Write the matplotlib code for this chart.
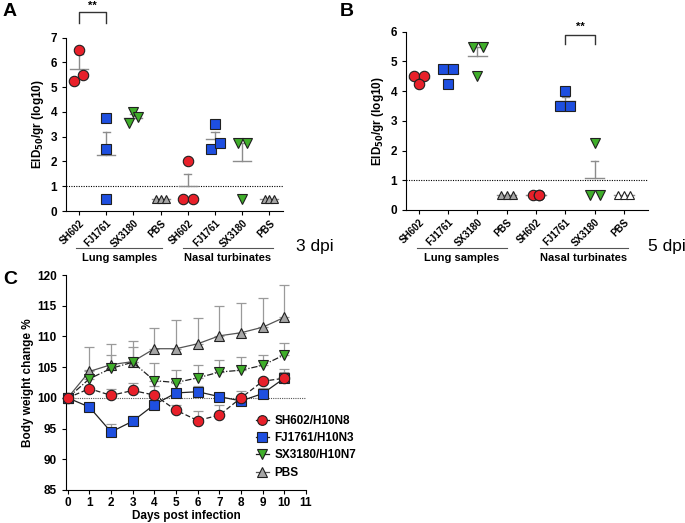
import matplotlib
matplotlib.use("Agg")
import matplotlib.pyplot as plt
import matplotlib.transforms as mtransforms
from matplotlib.lines import Line2D
import numpy as np

plt.rcParams['font.family'] = ['Liberation Sans', 'DejaVu Sans']
plt.rcParams['font.weight'] = 'bold'
plt.rcParams['axes.labelweight'] = 'bold'

# ---------------- data ----------------
categories = ["SH602", "FJ1761", "SX3180", "PBS", "SH602", "FJ1761", "SX3180", "PBS"]
groups = ["Lung samples", "Nasal turbinates"]

# Panel A (3 dpi) individual values
a_values = [[6.5, 5.25, 5.5], [3.75, 2.5, 0.5], [4.0, 3.55, 3.8], [0.5, 0.5, 0.5],
            [2.0, 0.5, 0.5], [3.5, 2.5, 2.75], [2.75, 2.75, 0.5], [0.5, 0.5, 0.5]]
a_mean = [5.75, 2.26, 3.74, 0.5, 1.0, 2.92, 2.0, 0.5]
a_top = [6.33, 3.19, 3.9, None, 1.49, 3.2, 2.75, None]

# Panel B (5 dpi) individual values
b_values = [[4.5, 4.5, 4.25], [4.75, 4.75, 4.25], [5.5, 5.5, 4.5], [0.5, 0.5, 0.5],
            [0.5, 0.5, 0.5], [4.0, 3.5, 3.5], [2.25, 0.5, 0.5], [0.5, 0.5, 0.5]]
b_mean = [4.43, 4.6, 5.18, 0.5, 0.5, 3.67, 1.07, 0.5]
b_top = [None, None, 5.49, None, None, 3.81, 1.66, None]

# Panel C body weight
days = [0, 1, 2, 3, 4, 5, 6, 7, 8, 9, 10]
sh602_w = [100, 101.5, 100.4, 101.2, 100.45, 98.0, 96.3, 97.2, 100.0, 102.7, 103.2]
sh602_e = [0, 0, 1.1, 1.3, 1.45, 0.9, 1.5, 1.7, 1.1, 0.5, 1.5]
fj1761_w = [100, 98.5, 94.45, 96.2, 98.9, 100.8, 101.0, 100.2, 99.5, 100.7, 103.2]
fj1761_e = [0, 0, 1.35, 0.8, 0.5, 0.6, 1.0, 0.5, 0.3, 0.9, 1.0]
sx3180_w = [100, 103.1, 104.8, 105.8, 102.8, 102.5, 103.25, 104.2, 104.5, 105.3, 107.0]
sx3180_e = [0, 1.5, 2.1, 2.4, 2.9, 2.0, 2.15, 1.9, 2.1, 1.7, 2.0]
pbs_w = [100, 104.3, 105.4, 105.9, 108.0, 108.0, 108.8, 110.1, 110.6, 111.5, 113.1]
pbs_e = [0, 3.9, 3.4, 3.3, 3.35, 4.6, 4.2, 4.9, 4.8, 4.8, 5.2]

# ---------------- styles ----------------
RED = '#E8202A'
BLUE = '#1E4FE0'
GREEN = '#3FAE2A'
GRAY = '#A6A6A6'
markers = ['o', 's', 'v', '^']
colors = [RED, BLUE, GREEN, GRAY]

a_offsets = [[0, -0.18, 0.16], [0, 0, 0], [0, -0.18, 0.15], [-0.18, 0, 0.18],
             [0, -0.18, 0.18], [0, -0.16, 0.18], [-0.16, 0.18, 0], [-0.18, 0, 0.18]]
b_offsets = [[-0.16, 0.16, 0], [-0.17, 0.17, 0], [-0.15, 0.19, 0], [-0.2, 0, 0.2],
             [-0.1, 0.1, 0.1], [0, -0.17, 0.17], [0, -0.17, 0.17], [-0.2, 0, 0.2]]

W, H = 685, 523
fig = plt.figure(figsize=(W / 100, H / 100), dpi=100)


def rect(l, r, t, b):
    return [l / W, 1 - b / H, (r - l) / W, (b - t) / H]


def scatter_panel(ax, values, offsets, means, tops, ymax, pbs_white=False):
    for i, (vals, offs) in enumerate(zip(values, offsets)):
        k = i % 4
        fc = colors[k]
        ms = 7.5 if k < 3 else 5.5
        if k == 3 and pbs_white and i >= 4:
            fc = 'white'
        # mean line and SEM
        ax.plot([i - 0.33, i + 0.33], [means[i], means[i]], color='#8C8C8C', lw=1.0, zorder=2)
        if tops[i] is not None:
            ax.plot([i, i], [means[i], tops[i]], color='#8C8C8C', lw=1.0, zorder=2)
            ax.plot([i - 0.13, i + 0.13], [tops[i], tops[i]], color='#8C8C8C', lw=1.0, zorder=2)
        for v, o in zip(vals, offs):
            ax.plot(i + o, v, marker=markers[k], ms=ms, mfc=fc, mec='#202020', mew=0.8,
                    linestyle='none', zorder=3, clip_on=False)
    ax.axhline(1, color='black', ls=(0, (1, 1.2)), lw=0.8, zorder=1)
    ax.set_xticks(range(len(categories)))
    ax.set_xticklabels(categories, rotation=45, ha='right', rotation_mode='anchor',
                       fontsize=7, fontweight='bold')
    ax.set_ylim(0, ymax)
    ax.set_yticks(range(0, ymax + 1))
    ax.tick_params(axis='y', labelsize=8.5, length=3, width=0.8)
    ax.tick_params(axis='x', length=3, width=0.8, pad=2)
    for lab in ax.get_yticklabels():
        lab.set_fontweight('bold')
    for s in ['top', 'right']:
        ax.spines[s].set_visible(False)
    for s in ['left', 'bottom']:
        ax.spines[s].set_linewidth(0.8)
    ax.set_ylabel('EID$_{\\mathbf{50}}$/gr (log10)', fontsize=8.5, fontweight='bold', labelpad=3)


def group_lines(ax, spans, ypix_line, ypix_text):
    tr = mtransforms.blended_transform_factory(ax.transData, fig.transFigure)
    for (x0, x1), name in zip(spans, groups):
        ax.add_artist(Line2D([x0, x1], [1 - ypix_line / H] * 2, transform=tr, color='#555555',
                             lw=0.8, clip_on=False))
        ax.text((x0 + x1) / 2, 1 - ypix_text / H, name, transform=tr, ha='center', va='center',
                fontsize=8, fontweight='bold', clip_on=False)


def bracket(ax, x0, x1, y0, y1, ytext):
    ax.plot([x0, x0, x1, x1], [y0, y1, y1, y0], color='#333333', lw=1.0, clip_on=False)
    ax.text((x0 + x1) / 2, ytext, '**', ha='center', va='center', fontsize=8,
            fontweight='bold', clip_on=False)


# ---------------- Panel A ----------------
axA = fig.add_axes(rect(66, 283, 37.7, 211))
scatter_panel(axA, a_values, a_offsets, a_mean, a_top, 7)
axA.set_xlim(-0.48, 7.5)
group_lines(axA, [(-0.1, 3.05), (3.82, 7.13)], 248, 258)
bracket(axA, 0, 1, 7.6, 8.05, 8.3)
fig.text(296 / W, 1 - 247 / H, '3 dpi', fontsize=12.5, fontweight='normal', va='center', ha='left')
fig.text(3 / W, 1 - 11 / H, 'A', fontsize=14, fontweight='bold', va='center', ha='left')

# ---------------- Panel B ----------------
axB = fig.add_axes(rect(406, 648, 31.7, 210))
scatter_panel(axB, b_values, b_offsets, b_mean, b_top, 6, pbs_white=True)
axB.set_xlim(-0.44, 7.82)
group_lines(axB, [(-0.07, 3.0), (4.13, 7.13)], 248, 258)
bracket(axB, 5, 6, 5.58, 5.88, 6.17)
fig.text(648 / W, 1 - 247 / H, '5 dpi', fontsize=12.5, fontweight='normal', va='center', ha='left')
fig.text(340 / W, 1 - 11 / H, 'B', fontsize=14, fontweight='bold', va='center', ha='left')

# ---------------- Panel C ----------------
axC = fig.add_axes(rect(66, 306, 275, 490))
series = [("SH602/H10N8", sh602_w, sh602_e, RED, 'o', (0, (4, 2)), '#222222'),
          ("FJ1761/H10N3", fj1761_w, fj1761_e, BLUE, 's', '-', '#222222'),
          ("SX3180/H10N7", sx3180_w, sx3180_e, GREEN, 'v', (0, (5, 1.5, 1, 1.5)), '#222222'),
          ("PBS", pbs_w, pbs_e, GRAY, '^', '-', '#555555')]
handles = []
for name, w, e, c, m, ls, lc in reversed(series):
    w = np.array(w)
    e = np.array(e)
    axC.errorbar(days, w, yerr=[np.zeros_like(e), e], fmt='none', ecolor='#9A9A9A',
                 elinewidth=0.9, capsize=3.5, capthick=0.9, zorder=2)
for idx, (name, w, e, c, m, ls, lc) in enumerate(reversed(series)):
    axC.plot(days, w, color=lc, lw=0.9, ls=ls, zorder=3 + idx)
    axC.plot(days, w, marker=m, ms=7.5, mfc=c, mec='#202020', mew=0.8, ls='none',
             zorder=3 + idx, clip_on=False)
for name, w, e, c, m, ls, lc in series:
    handles.append(Line2D([0], [0], color=lc, lw=0.9, ls='-', marker=m, ms=7, mfc=c,
                          mec='#202020', mew=0.8, label=name))
axC.axhline(100, color='#555555', ls=(0, (1, 1)), lw=0.8, zorder=1)
axC.set_xlim(-0.08, 11)
axC.set_ylim(85, 120)
axC.set_xticks(range(0, 12))
axC.set_yticks(range(85, 121, 5))
axC.tick_params(labelsize=8.5, length=3, width=0.8)
axC.tick_params(axis='x', pad=2)
for lab in axC.get_xticklabels() + axC.get_yticklabels():
    lab.set_fontweight('bold')
for s in ['top', 'right']:
    axC.spines[s].set_visible(False)
for s in ['left', 'bottom']:
    axC.spines[s].set_linewidth(0.8)
axC.set_xlabel('Days post infection', fontsize=8.5, fontweight='bold', labelpad=1)
axC.set_ylabel('Body weight change %', fontsize=8.5, fontweight='bold', labelpad=2)
leg = axC.legend(handles=handles, loc='upper left', bbox_to_anchor=(0.79, 0.35),
                 frameon=False, fontsize=8.5, handlelength=1.1, handletextpad=0.5,
                 labelspacing=0.45, borderaxespad=0, borderpad=0)
for t in leg.get_texts():
    t.set_fontweight('bold')
fig.text(3 / W, 1 - 279 / H, 'C', fontsize=14, fontweight='bold', va='center', ha='left')

fig.savefig('out.png', dpi=100)
